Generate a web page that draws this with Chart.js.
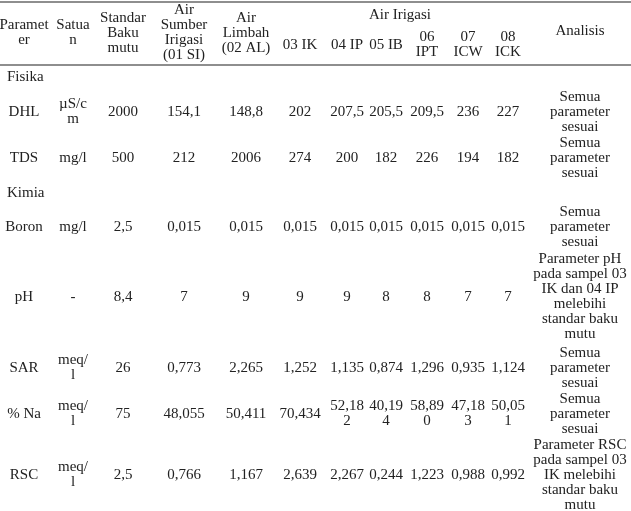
<!DOCTYPE html>
<html>
<head>
<meta charset="utf-8">
<script src="https://cdn.jsdelivr.net/npm/chart.js@4.4.1/dist/chart.umd.min.js"></script>
<style>
  html, body { margin: 0; padding: 0; background: #ffffff; }
  #wrap { width: 631px; height: 511px; }
</style>
</head>
<body>
<div id="wrap"><canvas id="c" width="631" height="511"></canvas></div>
<script>
// ---------------- DATA ----------------
const headers = ["Parameter", "Satuan", "Standar Baku mutu", "Air Sumber Irigasi (01 SI)", "Air Limbah (02 AL)",
                 "03 IK", "04 IP", "05 IB", "06 IPT", "07 ICW", "08 ICK", "Analisis"];
const groupHeader = "Air Irigasi";
const groupLabels = ["Fisika", "Kimia"];
const parameters = ["DHL", "TDS", "Boron", "pH", "SAR", "% Na", "RSC"];
const parameterGroup = [0, 0, 1, 1, 1, 1, 1];
const units = ["µS/cm", "mg/l", "mg/l", "-", "meq/l", "meq/l", "meq/l"];
const standarBakuMutu = ["2000", "500", "2,5", "8,4", "26", "75", "2,5"];
const airSumber01SI = ["154,1", "212", "0,015", "7", "0,773", "48,055", "0,766"];
const airLimbah02AL = ["148,8", "2006", "0,015", "9", "2,265", "50,411", "1,167"];
const ik03 = ["202", "274", "0,015", "9", "1,252", "70,434", "2,639"];
const ip04 = ["207,5", "200", "0,015", "9", "1,135", "52,182", "2,267"];
const ib05 = ["205,5", "182", "0,015", "8", "0,874", "40,194", "0,244"];
const ipt06 = ["209,5", "226", "0,015", "8", "1,296", "58,890", "1,223"];
const icw07 = ["236", "194", "0,015", "7", "0,935", "47,183", "0,988"];
const ick08 = ["227", "182", "0,015", "7", "1,124", "50,051", "0,992"];
const analisis = [
  "Semua parameter sesuai",
  "Semua parameter sesuai",
  "Semua parameter sesuai",
  "Parameter pH pada sampel 03 IK dan 04 IP melebihi standar baku mutu",
  "Semua parameter sesuai",
  "Semua parameter sesuai",
  "Parameter RSC pada sampel 03 IK melebihi standar baku mutu"
];

// ---------------- LAYOUT ----------------
const colWidths = [48, 50, 50, 72, 52, 56, 38, 40, 42, 40, 40, 104];
const colTextMax = [52, 33.8, 50, 55, 55, 55, 38, 38, 38, 38, 38, 96];
const header = { top: 2, bottom: 65, mainCenter: 33, analisisCenter: 31, groupCenter: 15, subCenter: 45, subFrom: 5, subTo: 10 };
const bodyRowHeights = [24, 46, 46, 24, 44, 96, 46, 46, 76];
const groupIndent = 7;
const FONT = '15px "Liberation Serif", "Times New Roman", serif';
const LINE_H = 15;
const TEXT_COLOR = '#222222';
const RULE_COLOR = '#8e8e8e';

// ---------------- BUILD ----------------
const colLeft = [];
colWidths.reduce((acc, w, i) => { colLeft[i] = acc; return acc + w; }, 0);
const colCenter = colWidths.map((w, i) => colLeft[i] + w / 2);

const valueColumns = [parameters, units, standarBakuMutu, airSumber01SI, airLimbah02AL,
                      ik03, ip04, ib05, ipt06, icw07, ick08, analisis];

const bodyRows = [];
parameters.forEach((p, i) => {
  if (i === 0 || parameterGroup[i] !== parameterGroup[i - 1]) bodyRows.push({ group: parameterGroup[i] });
  bodyRows.push({ param: i });
});
const rowCenter = [];
bodyRowHeights.reduce((acc, h, i) => { rowCenter[i] = acc + h / 2; return acc + h; }, header.bottom);

const lastCol = headers.length - 1;
const headerData = headers.map((h, c) => ({
  x: colCenter[c],
  y: (c >= header.subFrom && c <= header.subTo) ? header.subCenter
     : (c === lastCol ? header.analisisCenter : header.mainCenter),
  text: h, maxW: colTextMax[c]
}));
const subSpanLeft = colLeft[header.subFrom];
const subSpanRight = colLeft[header.subTo] + colWidths[header.subTo];
const groupHeaderData = [{ x: (subSpanLeft + subSpanRight) / 2, y: header.groupCenter, text: groupHeader, maxW: 999 }];

const groupRowData = [];
const cellDatasets = valueColumns.map((col, c) => {
  const pts = [];
  bodyRows.forEach((r, ri) => {
    if (r.param !== undefined) {
      pts.push({ x: colCenter[c], y: rowCenter[ri], text: col[r.param], maxW: colTextMax[c] });
    } else if (c === 0) {
      groupRowData.push({ x: groupIndent, y: rowCenter[ri], text: groupLabels[r.group], maxW: 999, align: 'left' });
    }
  });
  return { label: headers[c], data: pts, pointRadius: 0, pointHoverRadius: 0, showLine: false };
});

const datasets = [
  { label: 'header', data: headerData, pointRadius: 0, pointHoverRadius: 0, showLine: false },
  { label: 'group header', data: groupHeaderData, pointRadius: 0, pointHoverRadius: 0, showLine: false },
  { label: 'groups', data: groupRowData, pointRadius: 0, pointHoverRadius: 0, showLine: false },
  ...cellDatasets
];

function wrapText(ctx, text, maxW) {
  const words = String(text).split(' ');
  const lines = [];
  let cur = '';
  const breakWord = (w) => {
    let piece = '';
    for (const ch of w) {
      if (ctx.measureText(piece + ch).width > maxW && piece.length) { lines.push(piece); piece = ch; }
      else piece += ch;
    }
    return piece;
  };
  words.forEach(w => {
    const test = cur ? cur + ' ' + w : w;
    if (ctx.measureText(test).width <= maxW) { cur = test; return; }
    if (cur) { lines.push(cur); cur = ''; }
    if (ctx.measureText(w).width <= maxW) cur = w;
    else cur = breakWord(w);
  });
  if (cur) lines.push(cur);
  return lines;
}

const tablePlugin = {
  id: 'tableText',
  afterDatasetsDraw(chart) {
    const ctx = chart.ctx;
    const xs = chart.scales.x, ys = chart.scales.y;
    ctx.save();
    ctx.strokeStyle = RULE_COLOR;
    ctx.lineWidth = 2;
    [header.top, header.bottom].forEach(v => {
      const py = ys.getPixelForValue(v);
      ctx.beginPath(); ctx.moveTo(xs.left, py); ctx.lineTo(xs.right, py); ctx.stroke();
    });
    ctx.font = FONT;
    ctx.fillStyle = TEXT_COLOR;
    ctx.textBaseline = 'middle';
    chart.data.datasets.forEach((ds, i) => {
      const meta = chart.getDatasetMeta(i);
      meta.data.forEach((pt, j) => {
        const raw = ds.data[j];
        const lines = wrapText(ctx, raw.text, raw.maxW);
        const y0 = pt.y - (lines.length - 1) * LINE_H / 2;
        ctx.textAlign = raw.align === 'left' ? 'left' : 'center';
        lines.forEach((ln, k) => ctx.fillText(ln, pt.x, y0 + k * LINE_H));
      });
    });
    ctx.restore();
  }
};

new Chart(document.getElementById('c'), {
  type: 'scatter',
  data: { datasets },
  options: {
    responsive: false,
    animation: false,
    events: [],
    layout: { padding: 0 },
    plugins: { legend: { display: false }, tooltip: { enabled: false } },
    scales: {
      x: { type: 'linear', min: 0, max: 631, display: false },
      y: { type: 'linear', min: 0, max: 511, reverse: true, display: false }
    }
  },
  plugins: [tablePlugin]
});
</script>
</body>
</html>
